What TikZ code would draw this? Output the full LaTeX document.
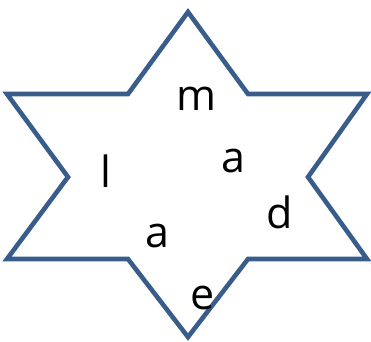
\documentclass[tikz,border=0pt]{standalone}
\usepackage{fontspec}
\setmainfont{Open Sans}
\usetikzlibrary{positioning}
\definecolor{starblue}{RGB}{56,93,138}
\tikzset{
  star line/.style={draw=starblue,line width=4.6pt,line join=miter},
  letter/.style={font=\fontsize{43}{50}\selectfont,inner sep=0pt,anchor=base,text=black},
}
\begin{document}
\begin{tikzpicture}[x=1pt,y=-1pt]
  \useasboundingbox (0,0) rectangle (371,341);
  % six-pointed star
  \draw[star line] (188,12) -- (248,94) -- (367,94) -- (308,177) -- (367,259)
    -- (248,259) -- (188,337) -- (128,259) -- (7,259) -- (68,177) -- (7,94)
    -- (128,94) -- cycle;
  % letters
  \node[letter] (m)  at (196,110) {m};
  \node[letter] (a1) at (233,172) {a};
  \node[letter] (l)  at (106,187) {l};
  \node[letter] (d)  at (280,228) {d};
  \node[letter] (a2) at (157,247) {a};
  \node[letter] (e)  at (203,309) {e};
\end{tikzpicture}
\end{document}
